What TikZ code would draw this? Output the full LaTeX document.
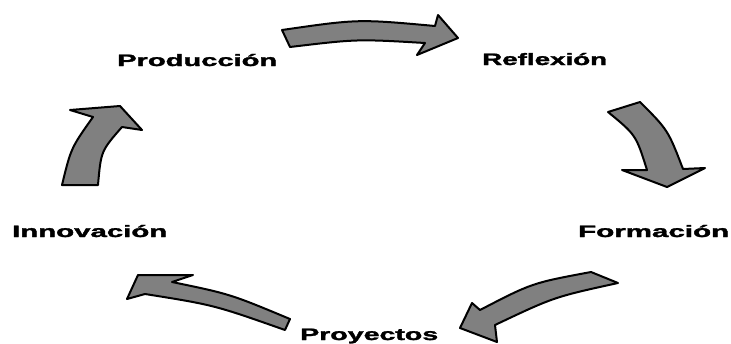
\documentclass[tikz,border=0pt]{standalone}
\usepackage{fontspec}
\setmainfont{Liberation Sans}[BoldFeatures={FakeBold=1.6}]
\usepackage{graphicx}
\newcommand{\lab}[2]{\resizebox{#1}{\height}{\bfseries #2}}
\tikzset{
  blockarrow/.style={draw=black, fill=black!50, line width=2pt, line join=round},
  lbl/.style={inner sep=0pt, anchor=base west, font=\fontsize{16.5}{18}\selectfont}
}
\begin{document}
\begin{tikzpicture}[x=1pt,y=-1pt]
\useasboundingbox (0,0) rectangle (731,343);
\clip (0,0) rectangle (731,343);
\fill[white] (0,0) rectangle (731,343);
% labels
\node[lbl] (prod) at (117,66) {\lab{160pt}{Producción}};
\node[lbl] (refl) at (482,65) {\lab{125pt}{Reflexión}};
\node[lbl] (form) at (578,237) {\lab{151pt}{Formación}};
\node[lbl] (inno) at (12,237) {\lab{155pt}{Innovación}};
\node[lbl] (proy) at (300,340) {\lab{138pt}{Proyectos}};
% top arrow (Producción -> Reflexión)
\draw[blockarrow] (282,30) .. controls (358,19) .. (435,26) -- (438,15) -- (458,38) -- (417,55) -- (425,43)
  .. controls (357,39) .. (290,47) -- cycle;
% right arrow (Reflexión -> Formación)
\draw[blockarrow] (640,102) .. controls (668,130) .. (683,169) -- (705,168) -- (667,187) -- (622,170) -- (647,170)
  .. controls (636,135) .. (608,112) -- cycle;
% bottom-right arrow (Formación -> Proyectos)
\draw[blockarrow] (591,272) .. controls (532,283) .. (480,310) -- (472,303) -- (460,328) -- (497,342) -- (495,325)
  .. controls (554,297) .. (618,283) -- cycle;
% bottom-left arrow (Proyectos -> Innovación)
\draw[blockarrow] (290,319) .. controls (230,294) .. (172,282) -- (193,275) -- (138,275) -- (127,299) -- (145,294)
  .. controls (214,305) .. (285,330) -- cycle;
% left arrow (Innovación -> Producción)
\draw[blockarrow] (62,185) .. controls (71,148) .. (93,117) -- (70,110) -- (120,106) -- (142,130) -- (122,127)
  .. controls (101,151) .. (98,185) -- cycle;
\end{tikzpicture}
\end{document}
